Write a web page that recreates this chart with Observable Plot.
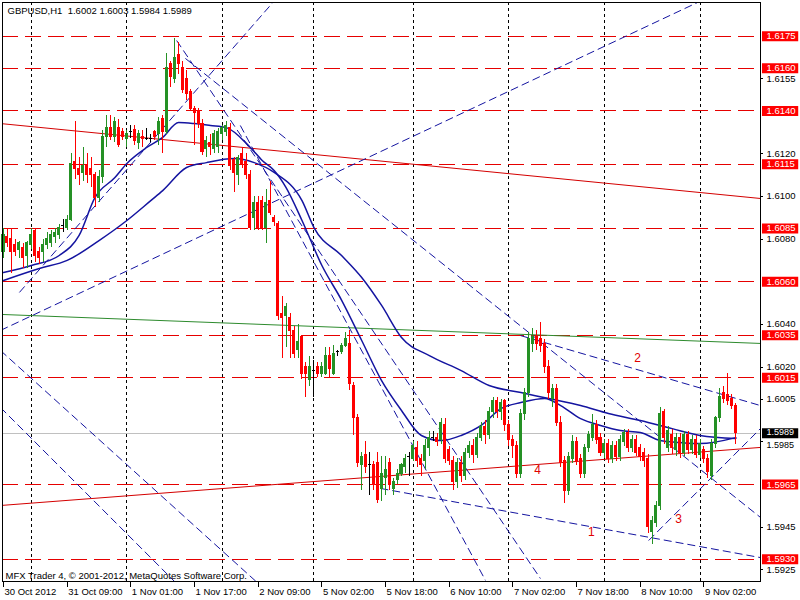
<!DOCTYPE html>
<html><head><meta charset="utf-8">
<script src="https://cdn.jsdelivr.net/npm/d3@7"></script>
<script src="https://cdn.jsdelivr.net/npm/@observablehq/plot@0.6"></script>
<style>
html,body{margin:0;padding:0;background:#fff;}
svg{display:block}
</style></head><body><div id="chart"></div>
<script>
// ---------- data ----------
const symbol = "GBPUSD", timeframe = "H1";
const copyright = "MFX Trader 4, \u00a9 2001-2012, MetaQuotes Software Corp.";

const open = [1.6074,1.6081,1.6080,1.6077,1.6075,1.6076,1.6072,1.6077,1.6084,1.6074,
1.6074,1.6077,1.6078,1.6081,1.6082,1.6086,1.6085,1.6089,1.6116,1.6113,
1.6111,1.6114,1.6113,1.6110,1.6099,1.6109,1.6128,1.6132,1.6128,1.6132,
1.6130,1.6127,1.6130,1.6131,1.6125,1.6128,1.6127,1.6127,1.6130,1.6129,
1.6136,1.6130,1.6162,1.6155,1.6166,1.6160,1.6155,1.6149,1.6141,1.6140,
1.6134,1.6122,1.6125,1.6122,1.6123,1.6129,1.6130,1.6132,1.6117,1.6110,
1.6120,1.6116,1.6110,1.6090,1.6097,1.6098,1.6085,1.6098,1.6090,1.6087,
1.6045,1.6044,1.6043,1.6037,1.6028,1.6034,1.6020,1.6014,1.6018,1.6020,
1.6017,1.6017,1.6025,1.6017,1.6027,1.6027,1.6030,1.6031,1.6011,1.5996,
1.5974,1.5979,1.5974,1.5974,1.5975,1.5963,1.5968,1.5975,1.5963,1.5967,
1.5970,1.5973,1.5978,1.5977,1.5982,1.5977,1.5976,1.5982,1.5987,1.5987,
1.5986,1.5993,1.5981,1.5976,1.5966,1.5975,1.5969,1.5980,1.5983,1.5979,
1.5987,1.5992,1.5988,1.5999,1.6004,1.5999,1.6004,1.5993,1.5986,1.5983,
1.5970,1.5998,1.6008,1.6031,1.6034,1.6033,1.6031,1.6020,1.6005,1.6010,
1.5994,1.5976,1.5962,1.5977,1.5985,1.5977,1.5970,1.5982,1.5987,1.5993,
1.5987,1.5980,1.5984,1.5977,1.5983,1.5978,1.5985,1.5989,1.5982,1.5986,
1.5982,1.5980,1.5977,1.5943,1.5947,1.5955,1.5999,1.5982,1.5988,1.5981,
1.5987,1.5980,1.5988,1.5981,1.5986,1.5979,1.5981,1.5977,1.5969,1.5984,
1.5996,1.6008,1.6007,1.6005,1.6002];
const high = [1.6085,1.6085,1.6085,1.6080,1.6079,1.6078,1.6079,1.6085,1.6085,1.6076,
1.6080,1.6083,1.6084,1.6085,1.6087,1.6089,1.6091,1.6120,1.6135,1.6118,
1.6123,1.6120,1.6118,1.6111,1.6112,1.6131,1.6138,1.6138,1.6137,1.6136,
1.6132,1.6131,1.6133,1.6133,1.6131,1.6131,1.6132,1.6129,1.6131,1.6137,
1.6138,1.6167,1.6163,1.6174,1.6172,1.6163,1.6159,1.6150,1.6142,1.6141,
1.6136,1.6128,1.6129,1.6131,1.6132,1.6133,1.6135,1.6134,1.6118,1.6119,
1.6123,1.6120,1.6112,1.6100,1.6100,1.6100,1.6103,1.6107,1.6091,1.6088,
1.6053,1.6050,1.6045,1.6039,1.6040,1.6035,1.6022,1.6025,1.6023,1.6022,
1.6022,1.6029,1.6029,1.6030,1.6028,1.6031,1.6036,1.6037,1.6013,1.5998,
1.5980,1.5985,1.5980,1.5976,1.5980,1.5978,1.5978,1.5977,1.5968,1.5972,
1.5975,1.5979,1.5980,1.5985,1.5985,1.5979,1.5986,1.5990,1.5990,1.5989,
1.5996,1.5996,1.5983,1.5978,1.5977,1.5978,1.5982,1.5985,1.5986,1.5989,
1.5994,1.5995,1.6001,1.6006,1.6006,1.6005,1.6005,1.5995,1.5988,1.5985,
1.6000,1.6010,1.6036,1.6038,1.6037,1.6041,1.6033,1.6023,1.6012,1.6012,
1.5997,1.5978,1.5980,1.5988,1.5987,1.5979,1.5984,1.5990,1.5998,1.5995,
1.5989,1.5986,1.5986,1.5985,1.5985,1.5988,1.5991,1.5991,1.5988,1.5988,
1.5984,1.5982,1.5979,1.5950,1.5957,1.6001,1.6000,1.5992,1.5991,1.5989,
1.5989,1.5990,1.5990,1.5988,1.5988,1.5986,1.5983,1.5979,1.5986,1.5997,
1.6010,1.6011,1.6017,1.6007,1.6003];
const low = [1.6071,1.6076,1.6064,1.6072,1.6071,1.6066,1.6066,1.6075,1.6069,1.6068,
1.6069,1.6075,1.6076,1.6078,1.6080,1.6083,1.6084,1.6088,1.6108,1.6105,
1.6107,1.6106,1.6104,1.6095,1.6097,1.6106,1.6123,1.6126,1.6125,1.6123,
1.6126,1.6123,1.6127,1.6124,1.6122,1.6123,1.6126,1.6125,1.6126,1.6124,
1.6120,1.6129,1.6151,1.6153,1.6157,1.6148,1.6145,1.6140,1.6124,1.6132,
1.6119,1.6118,1.6119,1.6120,1.6120,1.6126,1.6128,1.6112,1.6102,1.6105,
1.6113,1.6108,1.6084,1.6084,1.6084,1.6084,1.6078,1.6091,1.6086,1.6042,
1.6024,1.6029,1.6024,1.6024,1.6024,1.6014,1.6006,1.6011,1.6006,1.6015,
1.6015,1.6016,1.6015,1.6016,1.6025,1.6026,1.6029,1.6009,1.5988,1.5973,
1.5962,1.5970,1.5960,1.5962,1.5956,1.5957,1.5960,1.5962,1.5960,1.5965,
1.5969,1.5970,1.5969,1.5976,1.5973,1.5969,1.5972,1.5978,1.5985,1.5983,
1.5984,1.5975,1.5974,1.5962,1.5963,1.5966,1.5967,1.5977,1.5975,1.5977,
1.5985,1.5984,1.5986,1.5996,1.5996,1.5995,1.5990,1.5983,1.5977,1.5968,
1.5968,1.5995,1.6006,1.6027,1.6028,1.6027,1.6017,1.6005,1.6001,1.5992,
1.5973,1.5956,1.5960,1.5975,1.5974,1.5968,1.5968,1.5980,1.5985,1.5984,
1.5978,1.5977,1.5975,1.5975,1.5976,1.5976,1.5983,1.5980,1.5980,1.5978,
1.5976,1.5973,1.5942,1.5937,1.5945,1.5953,1.5984,1.5980,1.5979,1.5978,
1.5977,1.5978,1.5979,1.5979,1.5977,1.5977,1.5975,1.5968,1.5967,1.5982,
1.5994,1.6003,1.6002,1.6000,1.5984];
const close = [1.6082,1.6078,1.6074,1.6074,1.6078,1.6071,1.6078,1.6082,1.6072,1.6071,
1.6077,1.6080,1.6082,1.6083,1.6085,1.6086,1.6089,1.6115,1.6113,1.6110,
1.6114,1.6110,1.6110,1.6099,1.6109,1.6128,1.6132,1.6128,1.6135,1.6124,
1.6128,1.6129,1.6130,1.6126,1.6129,1.6127,1.6127,1.6127,1.6128,1.6135,
1.6130,1.6160,1.6156,1.6165,1.6162,1.6150,1.6148,1.6141,1.6139,1.6134,
1.6121,1.6126,1.6123,1.6129,1.6130,1.6132,1.6133,1.6114,1.6111,1.6118,
1.6115,1.6110,1.6085,1.6097,1.6085,1.6085,1.6097,1.6092,1.6088,1.6044,
1.6043,1.6048,1.6037,1.6026,1.6032,1.6017,1.6017,1.6020,1.6018,1.6017,
1.6020,1.6025,1.6019,1.6026,1.6027,1.6030,1.6033,1.6012,1.5996,1.5975,
1.5978,1.5973,1.5974,1.5965,1.5958,1.5970,1.5972,1.5965,1.5966,1.5970,
1.5974,1.5977,1.5978,1.5983,1.5976,1.5974,1.5983,1.5987,1.5987,1.5985,
1.5994,1.5977,1.5976,1.5966,1.5975,1.5969,1.5980,1.5983,1.5979,1.5987,
1.5992,1.5988,1.5999,1.6004,1.5999,1.6003,1.5993,1.5986,1.5983,1.5970,
1.5998,1.6008,1.6033,1.6034,1.6031,1.6030,1.6020,1.6008,1.6010,1.5994,
1.5975,1.5962,1.5978,1.5985,1.5976,1.5970,1.5982,1.5988,1.5993,1.5986,
1.5980,1.5984,1.5977,1.5983,1.5978,1.5986,1.5989,1.5982,1.5986,1.5980,
1.5978,1.5976,1.5945,1.5948,1.5955,1.5998,1.5987,1.5990,1.5982,1.5987,
1.5980,1.5988,1.5981,1.5986,1.5979,1.5984,1.5977,1.5971,1.5984,1.5996,
1.6006,1.6005,1.6004,1.6002,1.5989];

const timeTickIndex = [0,16,32,48,64,80,96,112,128,144,160,176];
const timeTickLabels = ["30 Oct 2012","31 Oct 09:00","1 Nov 01:00","1 Nov 17:00","2 Nov 09:00","5 Nov 02:00","5 Nov 18:00","6 Nov 10:00","7 Nov 02:00","7 Nov 18:00","8 Nov 10:00","9 Nov 02:00"];
const dayGridIndex = [7,31,55,78,103,127,151,175];

const levelPrices = [1.6175,1.6160,1.6140,1.6115,1.6085,1.6060,1.6035,1.6015,1.5965,1.5930];
const priceTicks = [1.6155,1.6120,1.6100,1.6080,1.6040,1.6020,1.6005,1.5985,1.5945,1.5925];
const currentPrice = 1.5989;

const maSlowIndex = [0,9,16,24,31,37,40,46,51,58,63,68,75,78,85,90,95,100,107,115,122,130,137,145,152,160,168,175,184];
const maSlowPrice = [1.60606,1.60662,1.6070,1.60793,1.60887,1.6098,1.61027,1.61135,1.61158,1.61177,1.61158,1.61112,1.6098,1.60854,1.60722,1.6062,1.60489,1.60339,1.60254,1.60184,1.60114,1.60081,1.60053,1.6002,1.59983,1.5995,1.59912,1.5988,1.59866];
const maFastIndex = [0,7,14,19,23,28,31,36,40,44,48,52,56,62,65,68,71,75,80,85,90,95,100,105,110,115,120,125,130,136,140,145,150,155,160,165,170,175,184];
const maFastPrice = [1.60643,1.60676,1.60723,1.60817,1.60995,1.61088,1.61154,1.61229,1.61276,1.61346,1.61341,1.61332,1.61322,1.61229,1.61168,1.61121,1.61041,1.60887,1.60676,1.60512,1.60325,1.60137,1.59997,1.5988,1.59856,1.5988,1.59927,1.60006,1.60034,1.60053,1.6002,1.59959,1.59927,1.59903,1.59894,1.59856,1.59847,1.59842,1.5987];

const trendStartIndex = [-0.75, 4, 43.5, 59.5, 45.7, 129.9, 94.7, 162.1, -0.75, -0.75];
const trendStartPrice = [1.60372, 1.6055, 1.6173, 1.61332, 1.61646, 1.60348, 1.59632, 1.59388, 1.60278, 1.60011];
const trendEndIndex   = [175.4, 68.1, 134.9, 121.1, 190.2, 190.2, 190.2, 190.2, 64.6, 44.0];
const trendEndPrice   = [1.61917, 1.61917, 1.5921, 1.59201, 1.59496, 1.6002, 1.59308, 1.599125, 1.59177, 1.59177];

const redSlopeIndex = [[-0.75, 190.2], [-0.75, 190.2]];
const redSlopePrice = [[1.61341, 1.6099], [1.59552, 1.59824]];
const greenSlopeIndex = [-0.75, 190.2];
const greenSlopePrice = [1.60447, 1.60311];

const waveLabels = ["1","2","3","4"];
const waveIndex = [147.7, 159.3, 169.6, 134.2];
const wavePrice = [1.59425, 1.6024, 1.59486, 1.59716];

// ---------- build ----------
const GREEN = "#259125", RED = "#ff0000", BLUE = "#1414a0", LEVEL = "#e60000";
const fmt = d3.format(".4f");
const candles = open.map((o, i) => ({i, open: o, high: high[i], low: low[i], close: close[i]}));
const candleColor = d => d.close > d.open ? GREEN : d.close < d.open ? RED : "#000000";
const lastC = candles[candles.length - 1];
const titleText = `${symbol},${timeframe}\u00a0\u00a0${fmt(lastC.open)} ${fmt(lastC.high)} ${fmt(lastC.low)} ${fmt(lastC.close)}`;
const trends = trendStartIndex.map((s, k) => ({i1: s, p1: trendStartPrice[k], i2: trendEndIndex[k], p2: trendEndPrice[k]}));
const maSlow = maSlowIndex.map((i, k) => ({i, p: maSlowPrice[k]}));
const maFast = maFastIndex.map((i, k) => ({i, p: maFastPrice[k]}));
const redSlopes = redSlopeIndex.map((ix, k) => ({i1: ix[0], i2: ix[1], p1: redSlopePrice[k][0], p2: redSlopePrice[k][1]}));
const greenSlope = [{i1: greenSlopeIndex[0], i2: greenSlopeIndex[1], p1: greenSlopePrice[0], p2: greenSlopePrice[1]}];
const timeTicks = timeTickIndex.map((i, k) => ({i, label: timeTickLabels[k]}));
// tick labels that sit right under the current-price box are nudged down a little
const nearCurrent = d => Math.abs(d - currentPrice) < 0.0006;

const xDomain = [-0.25, 190.2];
const yDomain = [1.59196, 1.61908];
const boxX1 = 190.7, boxX2 = 199.8;          // label boxes right of the frame (x units)
const tickY1 = 1.59191, tickY2 = 1.59168;     // bottom tick marks (price units below frame)

const chart = Plot.plot({
  width: 800, height: 600,
  marginLeft: 2, marginRight: 40, marginTop: 2, marginBottom: 19,
  x: {domain: xDomain, axis: null},
  y: {domain: yDomain, axis: null},
  style: {background: "#ffffff", fontFamily: "'Liberation Sans', Arial, sans-serif", fontSize: "9.5px", color: "#000", overflow: "visible"},
  marks: [
    Plot.ruleY([currentPrice], {stroke: "#c0c0c0", shapeRendering: "crispEdges"}),
    Plot.ruleX(dayGridIndex, {stroke: "#000", strokeDasharray: "3,3", shapeRendering: "crispEdges"}),
    Plot.ruleY(levelPrices, {stroke: LEVEL, strokeDasharray: "16,7", shapeRendering: "crispEdges"}),
    Plot.link(greenSlope, {x1: "i1", y1: "p1", x2: "i2", y2: "p2", stroke: "#2e8b2e", clip: true}),
    Plot.link(redSlopes, {x1: "i1", y1: "p1", x2: "i2", y2: "p2", stroke: "#d40000", clip: true}),
    Plot.link(trends, {x1: "i1", y1: "p1", x2: "i2", y2: "p2", stroke: BLUE, strokeDasharray: "8,4", clip: true}),
    Plot.line(maSlow, {x: "i", y: "p", stroke: BLUE, curve: "monotone-x", clip: true}),
    Plot.line(maFast, {x: "i", y: "p", stroke: BLUE, curve: "monotone-x", clip: true}),
    Plot.ruleX(candles, {x: "i", y1: "low", y2: "high", stroke: candleColor, shapeRendering: "crispEdges"}),
    Plot.rect(candles, {x1: d => d.i - 0.38, x2: d => d.i + 0.38, y1: "open", y2: "close", fill: candleColor, insetTop: -0.5, insetBottom: -0.5, shapeRendering: "crispEdges"}),
    Plot.text(waveLabels, {x: (d, k) => waveIndex[k], y: (d, k) => wavePrice[k], text: d => d, fill: "#e00000", fontSize: 12}),
    Plot.frame({stroke: "#000", shapeRendering: "crispEdges"}),
    // right price axis
    Plot.ruleY(priceTicks, {x1: xDomain[1], x2: xDomain[1] + 0.8, stroke: "#000", shapeRendering: "crispEdges"}),
    Plot.text(priceTicks.filter(d => !nearCurrent(d)), {y: d => d, text: d => fmt(d), frameAnchor: "right", dx: 6, textAnchor: "start", fill: "#000"}),
    Plot.text(priceTicks.filter(nearCurrent), {y: d => d, text: d => fmt(d), frameAnchor: "right", dx: 6, dy: 3, textAnchor: "start", fill: "#000", fontSize: 9}),
    Plot.ruleY(levelPrices, {x1: boxX1, x2: boxX2, stroke: "#ff0000", strokeWidth: 10}),
    Plot.text(levelPrices, {y: d => d, text: d => fmt(d), frameAnchor: "right", dx: 6, textAnchor: "start", fill: "#ffffff"}),
    Plot.ruleY([currentPrice], {x1: boxX1, x2: boxX2, stroke: "#000", strokeWidth: 10}),
    Plot.text([currentPrice], {y: d => d, text: d => fmt(d), frameAnchor: "right", dx: 6, dy: -1, textAnchor: "start", fill: "#ffffff", fontSize: 9}),
    // bottom time axis
    Plot.ruleX(timeTicks, {x: "i", y1: tickY1, y2: tickY2, stroke: "#000", shapeRendering: "crispEdges"}),
    Plot.text(timeTicks, {x: "i", text: "label", frameAnchor: "bottom", dy: 7, dx: 1, lineAnchor: "top", textAnchor: "start", fill: "#000"}),
    // overlays
    Plot.text([titleText], {frameAnchor: "top-left", dx: 5, dy: 5, lineAnchor: "top", textAnchor: "start", fill: "#000"}),
    Plot.text([copyright], {frameAnchor: "bottom-left", dx: 3, dy: -3, lineAnchor: "bottom", textAnchor: "start", fill: "#000"})
  ]
});
document.getElementById("chart").appendChild(chart);
</script>
</body></html>
